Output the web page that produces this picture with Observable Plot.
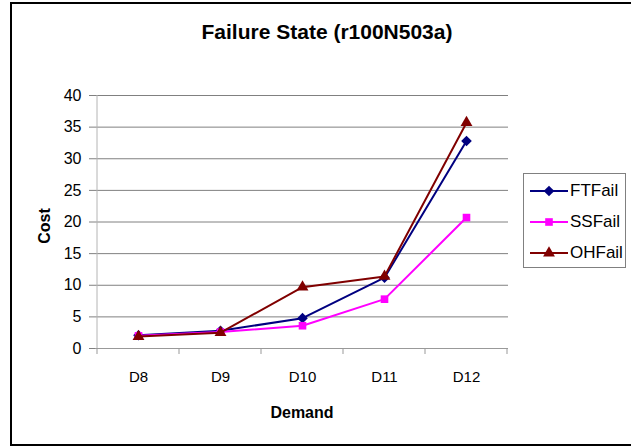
<!DOCTYPE html>
<html>
<head>
<meta charset="utf-8">
<script src="https://cdn.jsdelivr.net/npm/d3@7"></script>
<script src="https://cdn.jsdelivr.net/npm/@observablehq/plot@0.6"></script>
<style>
  html, body { margin: 0; padding: 0; background: #fff; overflow: hidden; }
  #wrap { position: relative; width: 631px; height: 446px; overflow: hidden; font-family: "Liberation Sans", Arial, sans-serif; }
  #frame { position: absolute; left: 10px; top: 2px; width: 660px; height: 444px; border: 2px solid #000; box-sizing: border-box; pointer-events: none; }
  #chart { position: absolute; left: 0; top: 0; }
  #chart svg g[aria-label^="y-axis"] line, #chart svg g[aria-label^="y-axis"] path { stroke: #808080; }
  #chart svg g[aria-label^="y-axis"] text { font-size: 16px; }
  .lbl { position: absolute; font-weight: bold; color: #000; white-space: nowrap; }
  #title { left: 327px; top: 20px; font-size: 21px; line-height: 24px; transform: translateX(-50%); }
  #xlabel { left: 302px; top: 404px; font-size: 16px; line-height: 18px; transform: translateX(-50%); }
  #ylabel { left: 45px; top: 226px; font-size: 16px; line-height: 18px; transform: translate(-50%, -50%) rotate(-90deg); }
  #legend { position: absolute; left: 523px; top: 173px; width: 103px; height: 95px; border: 1px solid #808080; box-sizing: border-box; background: #fff; }
  .item { position: absolute; left: 5px; height: 20px; display: flex; align-items: center; font-size: 17px; }
</style>
</head>
<body>
<div id="wrap">
  <div id="chart"></div>
  <div id="title" class="lbl">Failure State (r100N503a)</div>
  <div id="ylabel" class="lbl">Cost</div>
  <div id="xlabel" class="lbl">Demand</div>
  <div id="legend"></div>
  <div id="frame"></div>
</div>
<script>
const categories = ["D8", "D9", "D10", "D11", "D12"];
const ftFail = [2.1, 2.8, 4.8, 11.2, 32.8];
const ssFail = [2.0, 2.6, 3.6, 7.8, 20.7];
const ohFail = [1.9, 2.5, 9.7, 11.4, 35.7];
const seriesNames = ["FTFail", "SSFail", "OHFail"];
const yTicks = [0, 5, 10, 15, 20, 25, 30, 35, 40];

const seriesValues = [ftFail, ssFail, ohFail];
const seriesColors = ["#000080", "#ff00ff", "#800000"];
const seriesSymbols = ["diamond2", "square", "triangle"];
const seriesR = [4.8, 4.3, 4.4];

const data = [];
seriesNames.forEach((s, i) => categories.forEach((c, j) => data.push({series: s, cat: c, value: seriesValues[i][j]})));

const W = 631, H = 446;
const mL = 95, mR = 123, mT = 95, mB = 98;

const marks = [
  Plot.ruleY(yTicks.filter(d => d > 0), {y: d => d, stroke: "#808080", strokeWidth: 1}),
  Plot.ruleY([0], {stroke: "#999999", strokeWidth: 1}),
];
seriesNames.forEach((s, i) => {
  const sub = data.filter(d => d.series === s);
  marks.push(Plot.line(sub, {x: "cat", y: "value", stroke: seriesColors[i], strokeWidth: 2}));
  marks.push(Plot.dot(sub, {x: "cat", y: "value", symbol: () => seriesSymbols[i], r: seriesR[i], fill: seriesColors[i], stroke: "none"}));
});

const chart = Plot.plot({
  width: W, height: H,
  marginLeft: mL, marginRight: mR, marginTop: mT, marginBottom: mB,
  style: {background: "transparent", fontFamily: "'Liberation Sans', Arial, sans-serif", fontSize: "15px", color: "#000"},
  x: {type: "band", domain: categories, padding: 0, label: null, tickSize: 0, tickPadding: 23},
  y: {type: "linear", domain: [0, 40], ticks: yTicks, label: null, tickSize: 6, tickPadding: 8},
  marks: marks
});
document.getElementById("chart").appendChild(chart);

// y axis line and category boundary ticks, positioned through the chart's scales
const xs = chart.scale("x");
const ys = chart.scale("y");
const svg = d3.select(chart);
const x0 = xs.apply(categories[0]);
const bounds = categories.map(c => xs.apply(c)).concat([xs.apply(categories[categories.length - 1]) + xs.bandwidth]);
const g = svg.append("g");
g.append("line").attr("x1", x0).attr("x2", x0)
  .attr("y1", ys.apply(0)).attr("y2", ys.apply(40))
  .attr("stroke", "#b4b4b4").attr("stroke-width", 1);
g.selectAll("line.bt").data(bounds).join("line").attr("class", "bt")
  .attr("x1", d => d).attr("x2", d => d)
  .attr("y1", ys.apply(0)).attr("y2", ys.apply(0) + 6)
  .attr("stroke", "#999999").attr("stroke-width", 1);
// bring data marks back above the added axis line
svg.selectAll('g[aria-label="line"], g[aria-label="dot"]').each(function() { this.parentNode.appendChild(this); });

// legend
const legend = d3.select("#legend");
const symMap = {diamond2: d3.symbolDiamond2, square: d3.symbolSquare, triangle: d3.symbolTriangle};
seriesNames.forEach((s, i) => {
  const item = legend.append("div").attr("class", "item").style("top", (7 + i * 31) + "px");
  const sv = item.append("svg").attr("width", 40).attr("height", 20);
  sv.append("line").attr("x1", 1).attr("x2", 39).attr("y1", 10).attr("y2", 10)
    .attr("stroke", seriesColors[i]).attr("stroke-width", 2);
  sv.append("path").attr("transform", "translate(20,10)")
    .attr("d", d3.symbol(symMap[seriesSymbols[i]], Math.PI * seriesR[i] * seriesR[i])())
    .attr("fill", seriesColors[i]);
  item.append("span").text(s).style("margin-left", "1px");
});
</script>
</body>
</html>
